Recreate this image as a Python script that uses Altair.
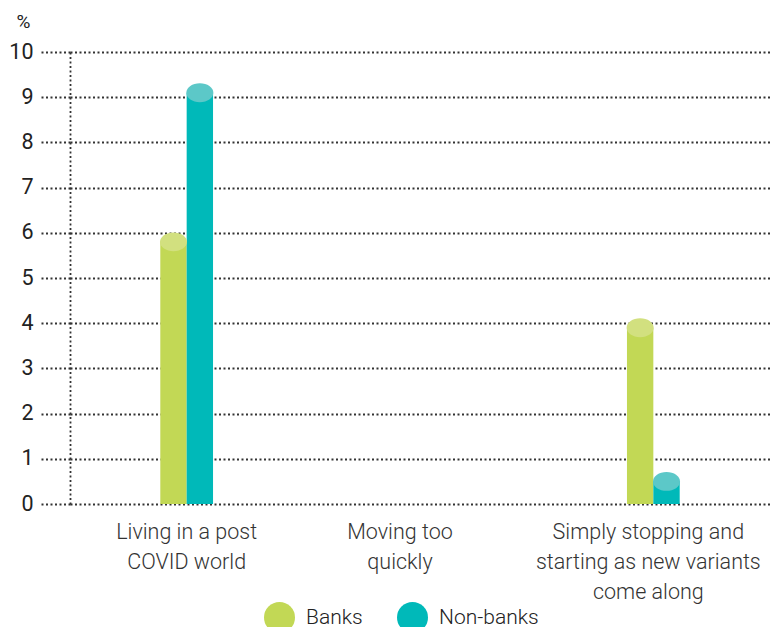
import altair as alt
import pandas as pd

categories = [
    "Living in a post COVID world",
    "Moving too quickly",
    "Simply stopping and starting as new variants come along",
]
label_lines = [
    ["Living in a post", "COVID world"],
    ["Moving too", "quickly"],
    ["Simply stopping and", "starting as new variants", "come along"],
]
label_shift = [0, -20, -5]
series = ["Banks", "Non-banks"]
banks = [5.8, 0, 3.9]
nonbanks = [9.1, 0, 0.5]
y_ticks = [0, 1, 2, 3, 4, 5, 6, 7, 8, 9, 10]

bar_colors = ["#C2D855", "#00B9B9"]
top_colors = ["#D2E07F", "#5CC8C8"]

rows = []
for c, b, n in zip(categories, banks, nonbanks):
    rows.append({"category": c, "series": "Banks", "value": b})
    rows.append({"category": c, "series": "Non-banks", "value": n})
df = pd.DataFrame(rows)

expr = "''"
for c, lines in reversed(list(zip(categories, label_lines))):
    arr = "[" + ",".join("'" + l + "'" for l in lines) + "]"
    expr = f"datum.value == '{c}' ? {arr} : ({expr})"

offset_cond = {
    "condition": [
        {"test": f"datum.value == '{c}'", "value": s}
        for c, s in zip(categories, label_shift) if s != 0
    ],
    "value": 0,
}

FONT = "Roboto"

x_enc = alt.X(
    "category:N",
    sort=categories,
    scale=alt.Scale(paddingInner=0.774, paddingOuter=0.387),
    axis=alt.Axis(
        title=None, domain=False, ticks=False, labelAngle=0,
        labelExpr=expr, labelFontSize=21.5, labelLineHeight=30,
        labelFontWeight=300, labelLimit=0,
        labelBaseline="top", labelPadding=17, labelColor="#333333",
        labelFont=FONT, grid=False, labelOffset=offset_cond,
    ),
)
xoff_enc = alt.XOffset("series:N", sort=series,
                       scale=alt.Scale(domain=series, paddingInner=0, paddingOuter=0))
y_enc = alt.Y(
    "value:Q",
    scale=alt.Scale(domain=[0, 10], nice=False),
    axis=alt.Axis(
        values=y_ticks, title="%", titleAngle=0, titleAlign="left",
        titleX=-54, titleY=-25, titleBaseline="alphabetic", titleFontSize=19,
        titleFontWeight="normal", titleFont=FONT, titleColor="#222222",
        labelFontSize=21.5, labelFont=FONT, labelFontWeight="normal",
        labelColor="#222222", labelPadding=7,
        tickSize=30, tickDash=[2, 2.5], tickColor="#333333", tickWidth=1.8,
        domainDash=[2, 2.5], domainColor="#333333", domainWidth=1.8,
        grid=True, gridDash=[2, 2.5], gridColor="#333333", gridWidth=1.8,
    ),
)

bars = alt.Chart(df).mark_bar(opacity=1).encode(
    x=x_enc,
    xOffset=xoff_enc,
    y=y_enc,
    color=alt.Color(
        "series:N", sort=series,
        scale=alt.Scale(domain=series, range=bar_colors),
        legend=alt.Legend(
            title=None, orient="none", direction="horizontal",
            legendX=194, legendY=550, padding=0,
            symbolType="circle", symbolSize=961, symbolStrokeWidth=0,
            symbolOpacity=1, labelFontSize=21, labelFont=FONT,
            labelFontWeight=300,
            labelColor="#222222", labelOffset=11, columnPadding=34,
        ),
    ),
)

ellipse = "M-1,0A1,0.7,0,1,1,1,0A1,0.7,0,1,1,-1,0Z"
tops = alt.Chart(df).transform_filter("datum.value > 0").mark_point(
    shape=ellipse, filled=True, opacity=1, size=729, strokeWidth=0
).encode(
    x=alt.X("category:N", sort=categories),
    xOffset=alt.XOffset("series:N", sort=series),
    y=alt.Y("value:Q"),
    color=alt.Color("series:N", sort=series,
                    scale=alt.Scale(domain=series, range=top_colors), legend=None),
)

chart = alt.layer(bars, tops).resolve_scale(color="independent").properties(
    width=700, height=452,
    autosize=alt.AutoSizeParams(type="none"),
    padding={"left": 62, "top": 44, "right": 0, "bottom": 123},
).configure_view(stroke=None)

chart.save("out.html", embed_options={"renderer": "svg", "actions": False})
